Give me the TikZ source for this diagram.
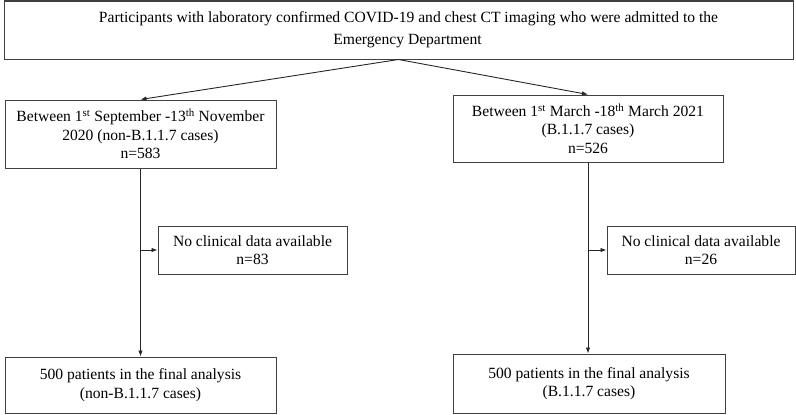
\documentclass[tikz,border=0pt]{standalone}
\usepackage{fontspec}
\setmainfont{Liberation Serif}
\usetikzlibrary{arrows.meta}

\begin{document}
\begin{tikzpicture}[
  x=1pt, y=-1pt,
  box/.style={
    draw=black!75, line width=1pt, align=center, inner sep=0pt,
    font=\fontsize{15.6}{18.5}\selectfont
  },
  flow/.style={draw=black!85, line width=0.9pt, -{Latex[length=6pt,width=4.5pt]}}
]
  \useasboundingbox (0,0) rectangle (796,415);

  % screening
  \node[box, minimum width=789pt, minimum height=58pt,
        font=\fontsize{15.6}{21.7}\selectfont] (admit) at (398.5,30)
    {\hspace*{20pt}Participants with laboratory confirmed COVID-19 and chest CT imaging who were admitted to the\\
     \hspace*{18pt}Emergency Department};

  % two periods
  \node[box, minimum width=271pt, minimum height=68pt] (nonb) at (140.5,134)
    {Between 1\textsuperscript{st} September -13\textsuperscript{th} November\\
     2020 (non-B.1.1.7 cases)\\ n=583};
  \node[box, minimum width=270pt, minimum height=67pt] (bvar) at (588,128.5)
    {Between 1\textsuperscript{st} March -18\textsuperscript{th} March 2021\\
     (B.1.1.7 cases)\\ n=526};

  % exclusions
  \node[box, minimum width=189pt, minimum height=48pt] (nonbx) at (252.5,250)
    {No clinical data available\\ n=83};
  \node[box, minimum width=188pt, minimum height=48pt] (bvarx) at (701,250)
    {No clinical data available\\ n=26};

  % final analysis
  \node[box, minimum width=271pt, minimum height=56pt] (nonbend) at (140.5,385)
    {500 patients in the final analysis\\ (non-B.1.1.7 cases)};
  \node[box, minimum width=272pt, minimum height=59pt] (bvarend) at (589,383.5)
    {500 patients in the final analysis\\ (B.1.1.7 cases)};

  \draw[flow] (admit.south) -- (nonb.north);
  \draw[flow] (admit.south) -- (bvar.north);
  \draw[flow] (nonb.south) -- (nonbend.north);
  \draw[flow] (bvar.south) -- (bvar.south |- bvarend.north);
  \draw[flow] (nonb.south |- nonbx.west) -- (nonbx.west);
  \draw[flow] (bvar.south |- bvarx.west) -- (bvarx.west);
\end{tikzpicture}
\end{document}
